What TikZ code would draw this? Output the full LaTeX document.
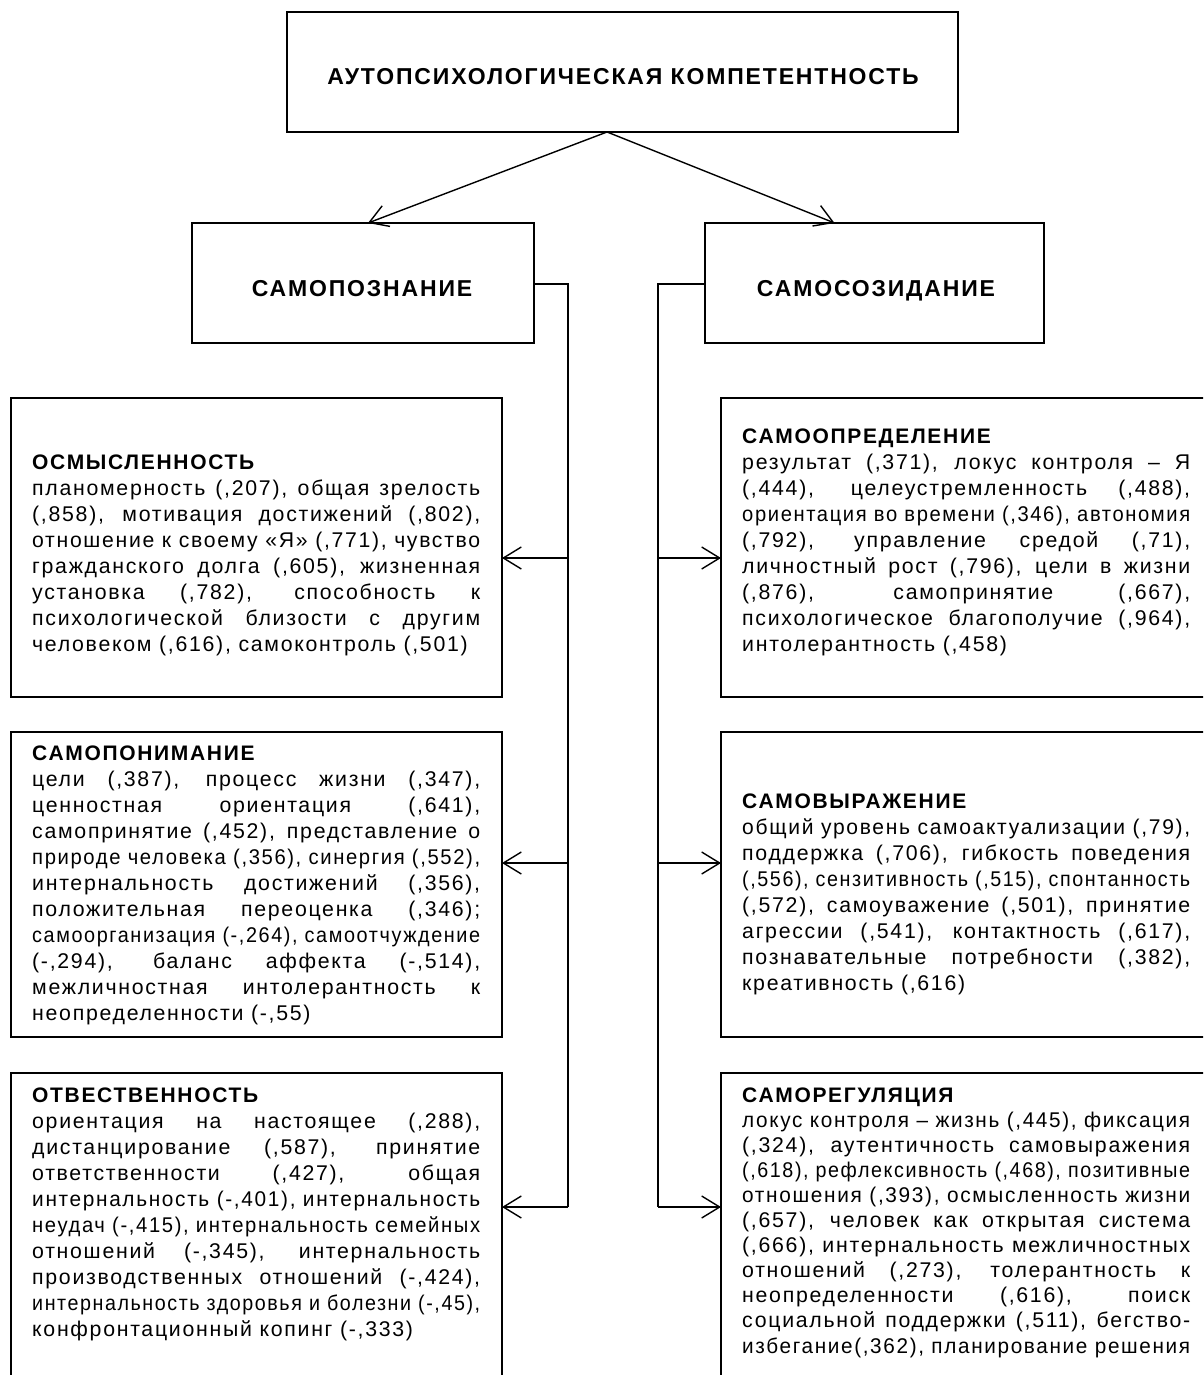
\documentclass[tikz,border=0pt]{standalone}
\usepackage{fontspec}
\usepackage{graphicx}
\usetikzlibrary{arrows.meta,calc}
\setmainfont{Liberation Sans}
\newfontfamily\bodyf[LetterSpace=8]{Liberation Sans}
\newfontfamily\headf[LetterSpace=8]{Liberation Sans Bold}
\newfontfamily\titlef[LetterSpace=8]{Liberation Sans Bold}
\newlength\lw \setlength\lw{448pt}
\newsavebox\lnbox
\newcommand\jl[1]{\sbox\lnbox{#1}\ifdim\wd\lnbox>\lw\hbox to\lw{\resizebox{\lw}{\height}{\usebox\lnbox}}\else\hbox to\lw{#1}\fi}
\newcommand\lastl[1]{\sbox\lnbox{#1}\ifdim\wd\lnbox>\lw\hbox to\lw{\resizebox{\lw}{\height}{\usebox\lnbox}}\else\hbox{#1}\fi}
\newcommand\blk[3]{\vtop{\hsize=\lw\lineskiplimit=-30pt\lineskip=0pt
  \headf\fontsize{21}{#1}\selectfont\hbox{#2}%
  \bodyf\fontsize{21.3}{#1}\selectfont #3}}
\tikzset{
  frame/.style={draw, line width=1.4pt, inner sep=0pt, outer sep=0pt, anchor=north west},
  conn/.style={line width=1.4pt},
  arr/.style={conn, -{Straight Barb[length=18pt,width=22pt,line width=1.4pt]}},
  bigtxt/.style={anchor=base, inner sep=0pt, font=\titlef\fontsize{23}{28}\selectfont},
  txt/.style={anchor=base west, inner sep=0pt},
}
\begin{document}
\begin{tikzpicture}[x=1pt,y=-1pt]
\useasboundingbox (0,0) rectangle (1203,1375);
\clip (0,0) rectangle (1203,1375);
\fill[white] (0,0) rectangle (1203,1375);

% boxes
\node[frame, minimum width=671pt, minimum height=120pt] (top) at (287,12) {};
\node[frame, minimum width=342pt, minimum height=120pt] (pozn) at (192,223) {};
\node[frame, minimum width=339pt, minimum height=120pt] (sozid) at (705,223) {};
\node[frame, minimum width=491pt, minimum height=299pt] (osm) at (11,398) {};
\node[frame, minimum width=491pt, minimum height=305pt] (ponim) at (11,732) {};
\node[frame, minimum width=491pt, minimum height=400pt] (otv) at (11,1073) {};
\node[frame, minimum width=520pt, minimum height=299pt] (opred) at (721,398) {};
\node[frame, minimum width=520pt, minimum height=305pt] (vyr) at (721,732) {};
\node[frame, minimum width=520pt, minimum height=400pt] (reg) at (721,1073) {};

% titles
\node[bigtxt] (toptxt) at (623,85) {АУТОПСИХОЛОГИЧЕСКАЯ КОМПЕТЕНТНОСТЬ};
\node[bigtxt] (pozntxt) at (362,296) {САМОПОЗНАНИЕ};
\node[bigtxt] (sozidtxt) at (876,296) {САМОСОЗИДАНИЕ};

% top arrows
\coordinate (apex) at (607,132);
\draw[arr] (apex) -- ($(pozn.north)+(5,0)$);
\draw[arr] (apex) -- ($(sozid.north)+(-40,0)$);

% left connector
\coordinate (lt) at (568,284);
\coordinate (l1) at (568,558);
\coordinate (l2) at (568,863);
\coordinate (l3) at (568,1207);
\draw[conn] (pozn.east |- lt) -- (lt) -- (l3);
\draw[arr] (l1) -- (l1 -| osm.east);
\draw[arr] (l2) -- (l2 -| ponim.east);
\draw[arr] (l3) -- (l3 -| otv.east);

% right connector
\coordinate (rt) at (658,284);
\coordinate (r1) at (658,558);
\coordinate (r2) at (658,863);
\coordinate (r3) at (658,1207);
\draw[conn] (sozid.west |- rt) -- (rt) -- (r3);
\draw[arr] (r1) -- (r1 -| opred.west);
\draw[arr] (r2) -- (r2 -| vyr.west);
\draw[arr] (r3) -- (r3 -| reg.west);

% text blocks
\node[txt] (osmtxt) at (32,469) {\blk{26}{ОСМЫСЛЕННОСТЬ}{%
\jl{планомерность (,207), общая зрелость}
\jl{(,858), мотивация достижений (,802),}
\jl{отношение к своему «Я» (,771), чувство}
\jl{гражданского долга (,605), жизненная}
\jl{установка (,782), способность к}
\jl{психологической близости с другим}
\lastl{человеком (,616), самоконтроль (,501)}}};

\node[txt] (ponimtxt) at (32,760) {\blk{26}{САМОПОНИМАНИЕ}{%
\jl{цели (,387), процесс жизни (,347),}
\jl{ценностная ориентация (,641),}
\jl{самопринятие (,452), представление о}
\jl{природе человека (,356), синергия (,552),}
\jl{интернальность достижений (,356),}
\jl{положительная переоценка (,346);}
\jl{самоорганизация (-,264), самоотчуждение}
\jl{(-,294), баланс аффекта (-,514),}
\jl{межличностная интолерантность к}
\lastl{неопределенности (-,55)}}};

\node[txt] (otvtxt) at (32,1102) {\blk{26}{ОТВЕСТВЕННОСТЬ}{%
\jl{ориентация на настоящее (,288),}
\jl{дистанцирование (,587), принятие}
\jl{ответственности (,427), общая}
\jl{интернальность (-,401), интернальность}
\jl{неудач (-,415), интернальность семейных}
\jl{отношений (-,345), интернальность}
\jl{производственных отношений (-,424),}
\jl{интернальность здоровья и болезни (-,45),}
\lastl{конфронтационный копинг (-,333)}}};

\node[txt] (opredtxt) at (742,443) {\blk{26}{САМООПРЕДЕЛЕНИЕ}{%
\jl{результат (,371), локус контроля – Я}
\jl{(,444), целеустремленность (,488),}
\jl{ориентация во времени (,346), автономия}
\jl{(,792), управление средой (,71),}
\jl{личностный рост (,796), цели в жизни}
\jl{(,876), самопринятие (,667),}
\jl{психологическое благополучие (,964),}
\lastl{интолерантность (,458)}}};

\node[txt] (vyrtxt) at (742,808) {\blk{26}{САМОВЫРАЖЕНИЕ}{%
\jl{общий уровень самоактуализации (,79),}
\jl{поддержка (,706), гибкость поведения}
\jl{(,556), сензитивность (,515), спонтанность}
\jl{(,572), самоуважение (,501), принятие}
\jl{агрессии (,541), контактность (,617),}
\jl{познавательные потребности (,382),}
\lastl{креативность (,616)}}};

\node[txt] (regtxt) at (742,1102) {\blk{25.1}{САМОРЕГУЛЯЦИЯ}{%
\jl{локус контроля – жизнь (,445), фиксация}
\jl{(,324), аутентичность самовыражения}
\jl{(,618), рефлексивность (,468), позитивные}
\jl{отношения (,393), осмысленность жизни}
\jl{(,657), человек как открытая система}
\jl{(,666), интернальность межличностных}
\jl{отношений (,273), толерантность к}
\jl{неопределенности (,616), поиск}
\jl{социальной поддержки (,511), бегство-}
\jl{избегание(,362), планирование решения}}};
\end{tikzpicture}
\end{document}
